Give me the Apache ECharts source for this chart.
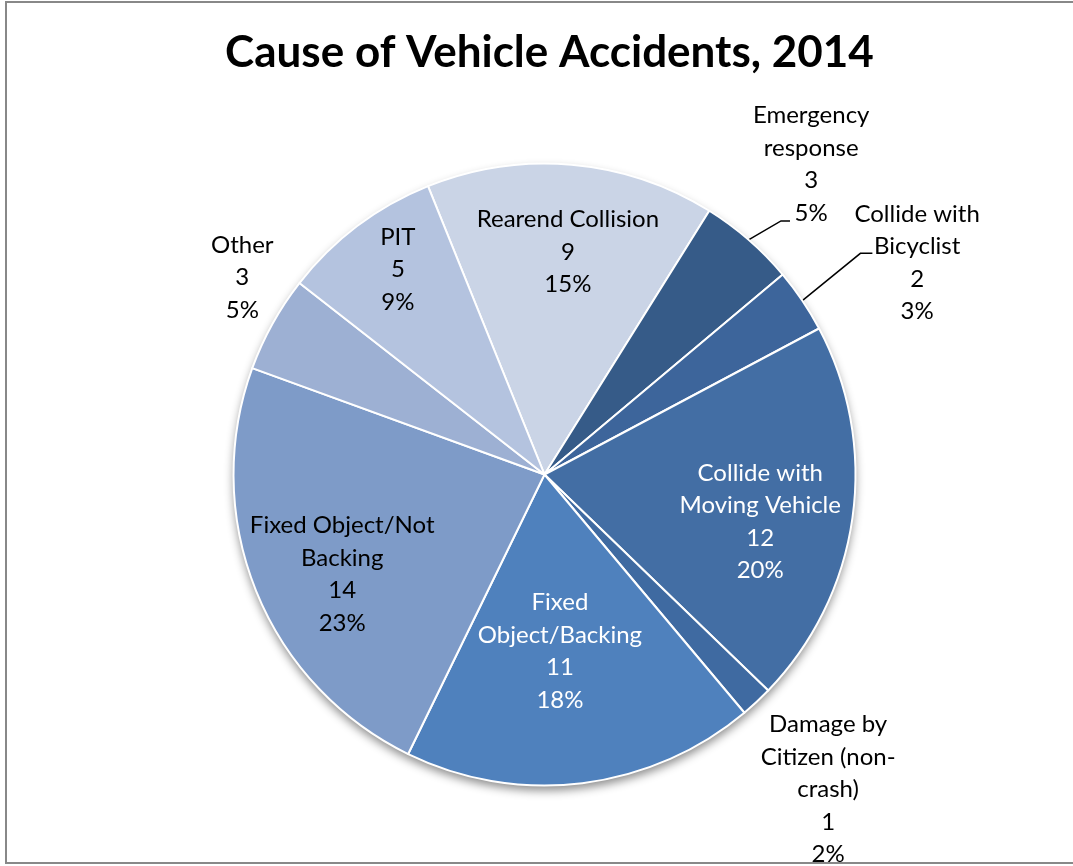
<!DOCTYPE html>
<html>
<head>
<meta charset="utf-8">
<title>Cause of Vehicle Accidents, 2014</title>
<script src="https://cdn.jsdelivr.net/npm/echarts@6/dist/echarts.min.js"></script>
<style>
  html, body { margin: 0; padding: 0; background: #ffffff; }
  #chart { width: 1073px; height: 866px; }
</style>
</head>
<body>
<div id="chart"></div>
<script>
// Accident causes, clockwise from the Rearend Collision slice
const categories = [
  'Rearend Collision',
  'Emergency\nresponse',
  'Collide with\nBicyclist',
  'Collide with\nMoving Vehicle',
  'Damage by\nCitizen (non-\ncrash)',
  'Fixed\nObject/Backing',
  'Fixed Object/Not\nBacking',
  'Other',
  'PIT'
];
const counts = [9, 3, 2, 12, 1, 11, 14, 3, 5];
const percentLabels = ['15%', '5%', '3%', '20%', '2%', '18%', '23%', '5%', '9%'];

const colors = ['#cad4e6', '#365b88', '#3d659b', '#436ea4', '#3f6aa1', '#4f81bd', '#7e9bc8', '#9db0d3', '#b4c3df'];
const whiteText = [false, false, false, true, false, true, false, false, false];

// label placement: distance from centre (fraction of radius) and angle shift from the slice middle
const labelPlace = [
  { f: 0.72, da: 1.0 },
  { f: 1.315, da: -0.3 },
  { f: 1.378, da: 4.4 },
  { f: 0.71, da: 4.3 },
  { f: 1.363, da: 1.0 },
  { f: 0.57, da: 2.0 },
  { f: 0.725, da: -4.2 },
  { f: 1.16, da: 4.1 },
  { f: 0.81, da: 1.4 }
];
// slices whose labels are tied back with a leader line
const leader = { 1: { f: 1.115, da: 2.0, run: 9 }, 2: { f: 1.24, da: -1.0, run: 12 } };

const CX = 544.5, CY = 474.5, R = 311;
const START = -22; // degrees clockwise from 12 o'clock
const total = counts.reduce((a, b) => a + b, 0);
const midAngles = [];
(function () {
  let cum = 0;
  counts.forEach(v => { midAngles.push(START + (cum + v / 2) / total * 360); cum += v; });
})();
function polar(f, deg) {
  const t = deg * Math.PI / 180;
  return [CX + f * R * Math.sin(t), CY - f * R * Math.cos(t)];
}

const FONT = 'Lato, "Open Sans", sans-serif';

const data = categories.map((name, i) => ({
  name: name,
  value: counts[i],
  itemStyle: { color: colors[i] },
  label: { color: whiteText[i] ? '#ffffff' : '#000000' },
  labelLine: { show: !!leader[i] }
}));

const chart = echarts.init(document.getElementById('chart'), null, { renderer: 'canvas' });
chart.setOption({
  backgroundColor: '#ffffff',
  animation: false,
  title: {
    text: 'Cause of Vehicle Accidents, 2014',
    left: CX,
    textAlign: 'center',
    top: 26,
    textStyle: { fontFamily: FONT, fontSize: 44, fontWeight: 'bold', color: '#000000' }
  },
  graphic: [{
    type: 'rect',
    shape: { x: 6, y: 2, width: 1100, height: 861 },
    style: { fill: 'none', stroke: '#888888', lineWidth: 2 },
    z: -10,
    silent: true
  }],
  series: [
    {
      // soft drop shadow under the disc
      type: 'pie',
      silent: true,
      center: [CX, CY],
      radius: R,
      z: 1,
      label: { show: false },
      labelLine: { show: false },
      data: [{ value: 1, itemStyle: { color: '#ffffff', shadowBlur: 10, shadowOffsetY: 5, shadowColor: 'rgba(0,0,0,0.45)' } }]
    },
    {
      type: 'pie',
      center: [CX, CY],
      radius: R,
      startAngle: 90 - START,
      clockwise: true,
      z: 2,
      avoidLabelOverlap: false,
      itemStyle: { borderColor: '#ffffff', borderWidth: 2 },
      label: {
        show: true,
        position: 'outside',
        fontFamily: FONT,
        fontSize: 24,
        lineHeight: 32.5,
        align: 'center',
        formatter: p => p.name + '\n' + p.value + '\n' + percentLabels[p.dataIndex]
      },
      labelLine: {
        show: false,
        lineStyle: { color: '#000000', width: 1.5 }
      },
      labelLayout: function (params) {
        const i = params.dataIndex;
        const lp = labelPlace[i];
        const pos = polar(lp.f, midAngles[i] + lp.da);
        const out = { x: pos[0], y: pos[1], align: 'center', verticalAlign: 'middle' };
        if (leader[i]) {
          const L = leader[i];
          const p0 = polar(1.0, midAngles[i]);
          const p1 = polar(L.f, midAngles[i] + L.da);
          out.labelLinePoints = [p0, p1, [p1[0] + L.run, p1[1]]];
        }
        return out;
      },
      data: data
    }
  ]
});
</script>
</body>
</html>
